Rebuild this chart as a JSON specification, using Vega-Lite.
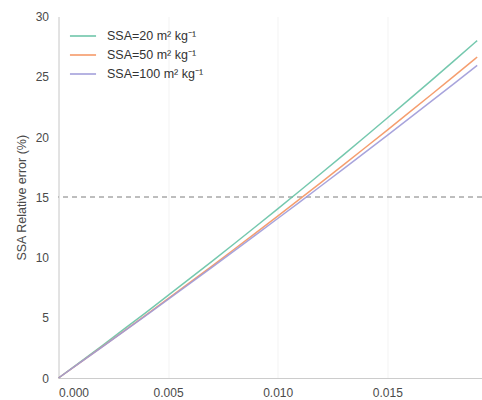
{
  "$schema": "https://vega.github.io/schema/vega-lite/v6.json",
  "width": 423.5,
  "height": 361.5,
  "autosize": {"type": "none"},
  "padding": {"left": 58.5, "top": 16.5, "right": 0, "bottom": 22},
  "background": "white",
  "config": {
    "font": "Liberation Sans",
    "view": {"stroke": null},
    "axis": {
      "labelFont": "Liberation Sans",
      "labelFontSize": 12,
      "labelColor": "#4a4a4a",
      "titleFont": "Liberation Sans",
      "titleFontSize": 12.5,
      "titleFontWeight": "normal",
      "titleColor": "#4a4a4a",
      "domainColor": "#cccccc",
      "domainWidth": 1,
      "gridColor": "#f3f3f3",
      "gridWidth": 1,
      "ticks": false
    }
  },
  "data": {
    "values": [
      {"x": 0.0, "SSA=20 m² kg⁻¹": 0.0, "SSA=50 m² kg⁻¹": 0.0, "SSA=100 m² kg⁻¹": 0.0},
      {"x": 0.001, "SSA=20 m² kg⁻¹": 1.343, "SSA=50 m² kg⁻¹": 1.294, "SSA=100 m² kg⁻¹": 1.290},
      {"x": 0.002, "SSA=20 m² kg⁻¹": 2.699, "SSA=50 m² kg⁻¹": 2.599, "SSA=100 m² kg⁻¹": 2.587},
      {"x": 0.003, "SSA=20 m² kg⁻¹": 4.069, "SSA=50 m² kg⁻¹": 3.915, "SSA=100 m² kg⁻¹": 3.892},
      {"x": 0.004, "SSA=20 m² kg⁻¹": 5.453, "SSA=50 m² kg⁻¹": 5.242, "SSA=100 m² kg⁻¹": 5.204},
      {"x": 0.005, "SSA=20 m² kg⁻¹": 6.850, "SSA=50 m² kg⁻¹": 6.580, "SSA=100 m² kg⁻¹": 6.524},
      {"x": 0.006, "SSA=20 m² kg⁻¹": 8.261, "SSA=50 m² kg⁻¹": 7.930, "SSA=100 m² kg⁻¹": 7.851},
      {"x": 0.007, "SSA=20 m² kg⁻¹": 9.685, "SSA=50 m² kg⁻¹": 9.290, "SSA=100 m² kg⁻¹": 9.186},
      {"x": 0.008, "SSA=20 m² kg⁻¹": 11.123, "SSA=50 m² kg⁻¹": 10.662, "SSA=100 m² kg⁻¹": 10.529},
      {"x": 0.009, "SSA=20 m² kg⁻¹": 12.575, "SSA=50 m² kg⁻¹": 12.045, "SSA=100 m² kg⁻¹": 11.879},
      {"x": 0.010, "SSA=20 m² kg⁻¹": 14.041, "SSA=50 m² kg⁻¹": 13.439, "SSA=100 m² kg⁻¹": 13.237},
      {"x": 0.011, "SSA=20 m² kg⁻¹": 15.520, "SSA=50 m² kg⁻¹": 14.844, "SSA=100 m² kg⁻¹": 14.603},
      {"x": 0.012, "SSA=20 m² kg⁻¹": 17.012, "SSA=50 m² kg⁻¹": 16.260, "SSA=100 m² kg⁻¹": 15.975},
      {"x": 0.013, "SSA=20 m² kg⁻¹": 18.519, "SSA=50 m² kg⁻¹": 17.688, "SSA=100 m² kg⁻¹": 17.356},
      {"x": 0.014, "SSA=20 m² kg⁻¹": 20.039, "SSA=50 m² kg⁻¹": 19.127, "SSA=100 m² kg⁻¹": 18.744},
      {"x": 0.015, "SSA=20 m² kg⁻¹": 21.573, "SSA=50 m² kg⁻¹": 20.576, "SSA=100 m² kg⁻¹": 20.140},
      {"x": 0.016, "SSA=20 m² kg⁻¹": 23.119, "SSA=50 m² kg⁻¹": 22.037, "SSA=100 m² kg⁻¹": 21.542},
      {"x": 0.017, "SSA=20 m² kg⁻¹": 24.680, "SSA=50 m² kg⁻¹": 23.509, "SSA=100 m² kg⁻¹": 22.953},
      {"x": 0.018, "SSA=20 m² kg⁻¹": 26.254, "SSA=50 m² kg⁻¹": 24.993, "SSA=100 m² kg⁻¹": 24.371},
      {"x": 0.019, "SSA=20 m² kg⁻¹": 27.843, "SSA=50 m² kg⁻¹": 26.487, "SSA=100 m² kg⁻¹": 25.797},
      {"x": 0.0191, "SSA=20 m² kg⁻¹": 28.0, "SSA=50 m² kg⁻¹": 26.64, "SSA=100 m² kg⁻¹": 25.94}
    ]
  },
  "layer": [
    {
      "mark": {"type": "rule", "strokeDash": [5, 4], "color": "#bdbdbd", "strokeWidth": 1.5},
      "encoding": {"y": {"datum": 15}}
    },
    {
      "transform": [
        {"fold": ["SSA=20 m² kg⁻¹", "SSA=50 m² kg⁻¹", "SSA=100 m² kg⁻¹"], "as": ["series", "value"]}
      ],
      "mark": {"type": "line", "strokeWidth": 1.5, "strokeOpacity": 0.9},
      "encoding": {
        "x": {
          "field": "x",
          "type": "quantitative",
          "scale": {"domain": [0, 0.01932], "nice": false, "zero": false},
          "axis": {"title": null, "values": [0, 0.005, 0.01, 0.015], "format": ".3f", "labelPadding": 9}
        },
        "y": {
          "field": "value",
          "type": "quantitative",
          "scale": {"domain": [0, 30], "nice": false},
          "axis": {"title": "SSA Relative error (%)", "values": [0, 5, 10, 15, 20, 25, 30], "labelPadding": 10, "titlePadding": 7}
        },
        "color": {
          "field": "series",
          "type": "nominal",
          "sort": ["SSA=20 m² kg⁻¹", "SSA=50 m² kg⁻¹", "SSA=100 m² kg⁻¹"],
          "scale": {
            "domain": ["SSA=20 m² kg⁻¹", "SSA=50 m² kg⁻¹", "SSA=100 m² kg⁻¹"],
            "range": ["#66c2a5", "#f4935f", "#9e9ad8"]
          },
          "legend": {
            "title": null,
            "orient": "none",
            "legendX": 14.5,
            "legendY": 9.5,
            "padding": 0,
            "symbolType": "M-1.45,0H1.45",
            "symbolSize": 324,
            "symbolStrokeWidth": 1.5,
            "rowPadding": 2,
            "labelOffset": 14,
            "labelFont": "Liberation Sans",
            "labelFontSize": 12.5,
            "labelColor": "#333333"
          }
        }
      }
    }
  ]
}
